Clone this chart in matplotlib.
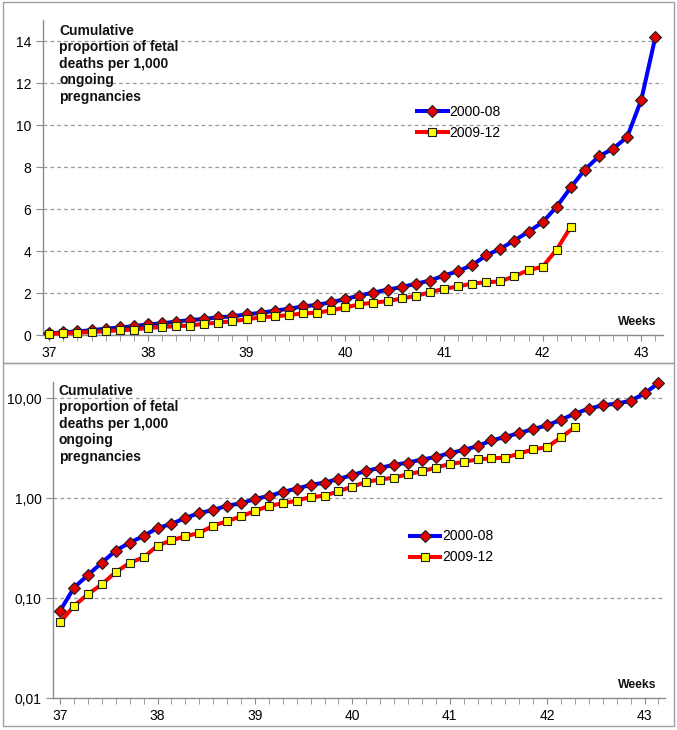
import numpy as np
import matplotlib
matplotlib.use("Agg")
import matplotlib.pyplot as plt
from matplotlib.patches import Rectangle
from matplotlib.ticker import FixedLocator, MultipleLocator, NullLocator

plt.rcParams["font.family"] = ["Liberation Sans", "DejaVu Sans"]

# ── data ─────────────────────────────────────────────────────
# gestational age in days from 37+0 (one point per day)
days_0008 = list(range(44))
days_0912 = list(range(38))

rate_0008 = [0.075, 0.128, 0.171, 0.227, 0.30, 0.36, 0.42, 0.505, 0.554, 0.636,
             0.713, 0.764, 0.845, 0.89, 0.985, 1.055, 1.157, 1.25, 1.36, 1.435,
             1.56, 1.71, 1.88, 2.02, 2.16, 2.28, 2.44, 2.59, 2.83, 3.04,
             3.33, 3.79, 4.11, 4.50, 4.92, 5.37, 6.11, 7.03, 7.88, 8.51,
             8.87, 9.43, 11.2, 14.2]
rate_0912 = [0.0575, 0.084, 0.110, 0.138, 0.183, 0.226, 0.257, 0.336, 0.380, 0.417,
             0.45, 0.533, 0.589, 0.66, 0.747, 0.838, 0.891, 0.948, 1.03, 1.06,
             1.175, 1.31, 1.46, 1.54, 1.61, 1.74, 1.86, 2.03, 2.20, 2.31,
             2.45, 2.51, 2.55, 2.80, 3.09, 3.25, 4.07, 5.15]

labels = ["2000-08", "2009-12"]
ylabel_txt = "Cumulative\nproportion of fetal\ndeaths per 1,000\nongoing\npregnancies"
lin_ticks = [0, 2, 4, 6, 8, 10, 12, 14]
log_ticks = [0.01, 0.1, 1, 10]
log_labels = ["0,01", "0,10", "1,00", "10,00"]
week_ticks = [37, 38, 39, 40, 41, 42, 43]

x_0008 = [37 + d / 7 for d in days_0008]
x_0912 = [37 + d / 7 for d in days_0912]

W, H = 677, 730
fig = plt.figure(figsize=(W / 100, H / 100), dpi=100)

# panel frames
for (x0, y0, x1, y1) in [(3, 2, 674, 363), (3, 363, 674, 726)]:
    fig.patches.append(Rectangle((x0 / W, 1 - y1 / H), (x1 - x0) / W, (y1 - y0) / H,
                                 transform=fig.transFigure, fill=False,
                                 edgecolor="#a0a0a0", linewidth=1.0))

def px(l, t, r, b):
    return [l / W, 1 - b / H, (r - l) / W, (b - t) / H]

ax1 = fig.add_axes(px(43.3, 20, 663, 335))
ax2 = fig.add_axes(px(53.3, 381.7, 665, 698.3))

def draw(ax):
    ax.plot(x_0008, rate_0008, color="#0000ff", lw=2.9, marker="D", ms=6.5,
            mfc="#e00000", mec="#202020", mew=0.8, label=labels[0], zorder=3,
            clip_on=False)
    ax.plot(x_0912, rate_0912, color="#ff0000", lw=2.9, marker="s", ms=5.4,
            mfc="#ffff00", mec="#202020", mew=0.8, label=labels[1], zorder=4,
            clip_on=False)
    for s in ["top", "right"]:
        ax.spines[s].set_visible(False)
    for s in ["left", "bottom"]:
        ax.spines[s].set_color("#8c8c8c")
        ax.spines[s].set_linewidth(1.0)
    ax.xaxis.set_major_locator(FixedLocator(week_ticks))
    ax.xaxis.set_minor_locator(MultipleLocator(1 / 7))
    ax.tick_params(axis="x", which="both", direction="out", length=4,
                   color="#8c8c8c", labelsize=10, pad=4)
    ax.tick_params(axis="y", which="major", direction="out", length=5,
                   color="#8c8c8c", labelsize=10)
    ax.yaxis.set_minor_locator(NullLocator())
    ax.grid(axis="y", which="major", linestyle=(0, (3, 2.5)), color="#9a9a9a", lw=0.9)
    ax.set_axisbelow(True)

# top: linear
draw(ax1)
ax1.set_xlim(36.94, 43.22)
ax1.set_ylim(0, 15)
ax1.set_yticks(lin_ticks)
ax1.legend(loc="center left", bbox_to_anchor=(0.603, 0.675), frameon=False,
           fontsize=10, handlelength=2.2, handletextpad=0.15, labelspacing=0.55,
           borderpad=0, borderaxespad=0)

# bottom: log
draw(ax2)
ax2.set_yscale("log")
ax2.set_xlim(36.93, 43.21)
ax2.set_ylim(0.01, 14.66)
ax2.yaxis.set_major_locator(FixedLocator(log_ticks))
ax2.set_yticklabels(log_labels)
ax2.yaxis.set_minor_locator(NullLocator())
ax2.legend(loc="center left", bbox_to_anchor=(0.583, 0.478), frameon=False,
           fontsize=10, handlelength=2.2, handletextpad=0.15, labelspacing=0.5,
           borderpad=0, borderaxespad=0)

# in-plot labels
for (tx, ty) in [(59.3, 24), (58.7, 384)]:
    fig.text(tx / W, 1 - ty / H, ylabel_txt, ha="left", va="top",
             fontsize=10, fontweight="bold", linespacing=1.22, color="#111111")
for (wx, wy) in [(656, 321.7), (656, 685)]:
    fig.text(wx / W, 1 - wy / H, "Weeks", ha="right", va="center",
             fontsize=8.8, fontweight="bold", color="#111111")

fig.savefig("out.png", dpi=100)
